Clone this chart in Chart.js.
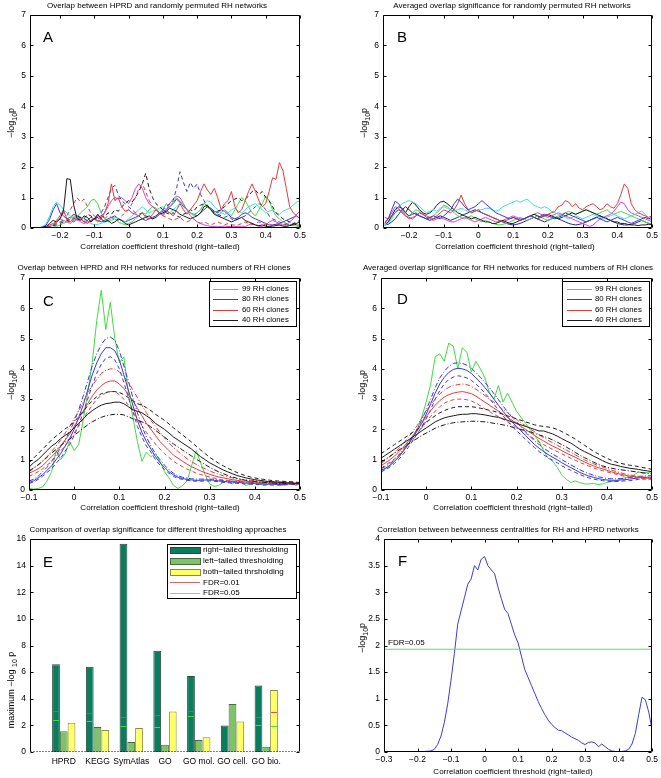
<!DOCTYPE html>
<html>
<head>
<meta charset="utf-8">
<script src="https://cdn.jsdelivr.net/npm/chart.js@4"></script>
<style>
  body { margin: 0; background: #fff; }
  canvas { position: absolute; left: 0; top: 0; }
</style>
</head>
<body>
<canvas id="cA" width="661" height="778"></canvas>
<canvas id="cB" width="661" height="778"></canvas>
<canvas id="cC" width="661" height="778"></canvas>
<canvas id="cD" width="661" height="778"></canvas>
<canvas id="cE" width="661" height="778"></canvas>
<canvas id="cF" width="661" height="778"></canvas>
<script>
// threshold grids
function grid(start, step, n) {
    const out = [];
    for (let i = 0; i < n; i++) out.push(Math.round((start + i * step) * 100) / 100);
    return out;
}
const aX = grid(-0.28, 0.01, 79);
const bX = grid(-0.27, 0.01, 78);
const cdX = grid(-0.1, 0.01, 61);
const fX = grid(-0.3, 0.01, 81);

// tick labels
const xTicksA = [-0.2, -0.1, 0, 0.1, 0.2, 0.3, 0.4, 0.5];
const xTicksCD = [-0.1, 0, 0.1, 0.2, 0.3, 0.4, 0.5];
const xTicksF = [-0.3, -0.2, -0.1, 0, 0.1, 0.2, 0.3, 0.4, 0.5];
const yTicks7 = [0, 1, 2, 3, 4, 5, 6, 7];
const yTicksE = [0, 2, 4, 6, 8, 10, 12, 14, 16];
const yTicksF = [0, 0.5, 1, 1.5, 2, 2.5, 3, 3.5, 4];

// A: overlap HPRD vs randomly permuted RH networks
const aBlack = [0,0,0.01,0.03,0.06,0.15,0.25,0.2,0.3,0.55,
    1.62,1.6,0.75,0.3,0.25,0.4,0.35,0.2,0.3,0.45,
    0.3,0.2,0.25,0.15,0.2,0.3,0.25,0.15,0.1,0.15,
    0.2,0.25,0.3,0.35,0.4,0.3,0.35,0.45,0.5,0.55,
    0.65,0.6,0.55,0.45,0.4,0.35,0.3,0.35,0.4,0.5,
    0.7,0.75,0.6,0.45,0.4,0.35,0.3,0.25,0.2,0.25,
    0.3,0.35,0.25,0.2,0.15,0.1,0.08,0.1,0.06,0.05,
    0.06,0.08,0.1,0.06,0.05,0.08,0.12,0.15,0.2];
const aRed = [0,0,0,0.02,0.05,0.1,0.15,0.25,0.4,0.6,
    0.3,0.2,0.35,0.25,0.3,0.2,0.15,0.25,0.3,0.2,
    0.3,0.5,0.8,1.45,0.9,1.0,0.7,0.55,0.6,0.5,
    0.45,0.4,0.5,0.35,0.3,0.45,0.6,0.5,0.4,0.55,
    0.5,0.4,0.6,0.8,0.6,0.45,0.6,0.75,0.9,1.2,
    1.45,1.25,1.1,1.3,1.0,0.6,0.8,0.9,1.2,0.7,
    0.5,0.6,0.9,1.2,1.45,1.2,0.9,0.7,0.8,1.2,
    1.65,1.6,2.15,1.9,1.3,0.7,0.5,0.4,0.3];
const aRedDash = [0,0,0,0,0.02,0.05,0.1,0.2,0.3,0.5,
    0.4,0.6,0.8,1.0,0.85,0.95,0.7,0.5,0.4,0.3,
    0.35,0.3,0.4,0.35,0.3,0.25,0.4,0.5,0.6,0.8,
    1.0,1.3,1.45,1.2,0.9,0.7,0.6,0.5,0.4,0.35,
    0.3,0.25,0.3,0.35,0.25,0.2,0.25,0.3,0.2,0.15,
    0.2,0.15,0.1,0.15,0.2,0.15,0.1,0.15,0.1,0.1,
    0.1,0.15,0.2,0.15,0.1,0.15,0.2,0.15,0.1,0.1,
    0.1,0.15,0.1,0.1,0.15,0.1,0.1,0.1,0.1];
const aBlackDash = [0,0,0,0.01,0.03,0.05,0.08,0.1,0.15,0.2,
    0.25,0.2,0.3,0.4,0.35,0.3,0.45,0.4,0.3,0.35,
    0.4,0.35,0.5,0.45,0.6,0.55,0.7,0.8,0.9,0.85,
    1.0,1.2,1.45,1.8,1.3,1.0,0.8,0.7,0.6,0.5,
    0.45,0.5,0.4,0.35,0.45,0.5,0.6,0.55,0.7,0.75,
    0.8,0.7,0.6,0.5,0.55,0.6,0.7,0.8,0.9,0.95,
    1.0,0.9,0.95,1.05,1.2,1.25,1.1,1.2,1.0,0.9,
    0.7,0.5,0.4,0.3,0.25,0.2,0.15,0.1,0.1];
const aBlueDash = [0,0,0,0.01,0.02,0.05,0.1,0.15,0.2,0.25,
    0.3,0.25,0.2,0.3,0.35,0.3,0.25,0.2,0.3,0.4,
    0.5,0.7,1.0,1.3,1.4,1.1,0.9,0.8,0.7,0.6,
    0.5,0.45,0.5,0.4,0.35,0.3,0.4,0.5,0.6,0.7,
    0.8,0.9,1.3,1.85,1.5,1.2,1.5,1.3,1.45,1.1,
    0.9,0.7,0.6,0.5,0.45,0.4,0.35,0.4,0.3,0.25,
    0.3,0.35,0.4,0.5,0.6,0.7,0.8,0.75,0.6,0.4,
    0.3,0.25,0.2,0.15,0.1,0.1,0.15,0.2,0.25];
const aMagenta = [0,0,0,0,0.02,0.05,0.1,0.2,0.3,0.25,
    0.2,0.15,0.25,0.3,0.2,0.15,0.2,0.25,0.3,0.35,
    0.4,0.5,0.7,0.9,1.0,0.95,1.0,0.9,0.8,1.0,
    1.3,1.45,1.3,1.0,0.8,0.7,0.6,0.5,0.45,0.6,
    0.8,0.95,1.05,1.0,0.8,0.6,0.4,0.3,0.2,0.15,
    0.1,0.08,0.05,0.05,0.04,0.05,0.06,0.05,0.04,0.05,
    0.05,0.06,0.05,0.1,0.15,0.1,0.05,0.05,0.1,0.2,
    0.25,0.2,0.15,0.1,0.1,0.2,0.3,0.45,0.55];
const aGreen = [0,0,0,0,0,0.01,0.03,0.05,0.1,0.15,
    0.2,0.3,0.4,0.35,0.5,0.6,0.7,0.9,0.95,0.8,
    0.5,0.3,0.2,0.25,0.3,0.2,0.15,0.1,0.15,0.2,
    0.3,0.4,0.5,0.45,0.6,0.7,0.65,0.5,0.6,0.8,
    0.7,0.85,1.0,0.9,0.75,0.6,0.5,0.4,0.5,0.6,
    0.8,0.75,0.6,0.5,0.4,0.5,0.6,0.5,0.4,0.6,
    0.8,1.0,0.9,0.7,0.5,0.4,0.6,0.8,1.05,0.9,
    0.6,0.4,0.3,0.2,0.15,0.1,0.08,0.06,0.05];
const aCyan = [0,0,0.01,0.05,0.15,0.4,0.7,0.85,0.75,0.6,
    0.5,0.4,0.3,0.35,0.3,0.25,0.2,0.15,0.1,0.12,
    0.15,0.2,0.25,0.3,0.35,0.3,0.25,0.2,0.3,0.4,
    0.5,0.6,0.7,0.6,0.5,0.55,0.6,0.65,0.7,0.6,
    0.5,0.6,0.7,0.8,0.75,0.6,0.5,0.45,0.5,0.6,
    0.8,0.9,0.85,0.7,0.6,0.5,0.45,0.5,0.6,0.65,
    0.55,0.5,0.6,0.7,0.75,0.8,0.7,0.6,0.5,0.55,
    0.6,0.5,0.45,0.55,0.6,0.65,0.75,0.85,0.9];
const aBlue = [0,0,0.01,0.03,0.1,0.3,0.6,0.8,0.5,0.4,
    0.3,0.35,0.45,0.4,0.3,0.2,0.25,0.35,0.3,0.25,
    0.2,0.25,0.3,0.35,0.4,0.3,0.25,0.2,0.25,0.3,
    0.35,0.4,0.3,0.25,0.3,0.35,0.4,0.5,0.55,0.6,
    0.7,0.8,0.95,0.85,0.7,0.6,0.5,0.45,0.4,0.5,
    0.6,0.7,0.65,0.55,0.5,0.6,0.55,0.45,0.35,0.3,
    0.35,0.45,0.5,0.45,0.35,0.3,0.25,0.2,0.15,0.1,
    0.1,0.12,0.15,0.2,0.25,0.3,0.35,0.4,0.3];

// B: averaged overlap significance, permuted networks
const bBlue = [0.15,0.3,0.6,0.88,0.8,0.6,0.5,0.4,0.45,0.5,
    0.4,0.35,0.3,0.35,0.4,0.35,0.3,0.4,0.5,0.6,
    0.8,0.95,0.85,0.7,0.6,0.65,0.7,0.8,0.9,0.8,
    0.7,0.6,0.5,0.45,0.4,0.35,0.3,0.35,0.3,0.25,
    0.3,0.35,0.4,0.35,0.3,0.4,0.45,0.4,0.35,0.3,
    0.35,0.4,0.5,0.45,0.4,0.35,0.3,0.25,0.2,0.25,
    0.3,0.35,0.3,0.25,0.2,0.25,0.3,0.35,0.3,0.25,
    0.2,0.15,0.2,0.25,0.3,0.35,0.3,0.35];
const bRed = [0.35,0.3,0.4,0.5,0.6,0.5,0.4,0.35,0.3,0.4,
    0.5,0.45,0.4,0.35,0.3,0.4,0.5,0.6,0.55,0.5,
    0.6,0.8,1.08,0.8,0.6,0.5,0.55,0.6,0.5,0.45,
    0.4,0.35,0.3,0.25,0.2,0.25,0.3,0.35,0.3,0.25,
    0.3,0.35,0.4,0.35,0.3,0.35,0.4,0.45,0.5,0.55,
    0.7,0.75,0.9,0.85,0.7,0.8,0.65,0.6,0.7,0.75,
    0.8,0.7,0.6,0.65,0.8,0.7,0.65,0.8,1.1,1.45,
    1.3,0.8,0.6,0.5,0.45,0.4,0.35,0.4];
const bCyan = [0.1,0.15,0.3,0.5,0.7,0.8,0.85,0.9,0.85,0.8,
    0.7,0.6,0.5,0.55,0.6,0.55,0.65,0.7,0.65,0.6,
    0.55,0.6,0.65,0.6,0.55,0.5,0.55,0.6,0.6,0.65,
    0.65,0.6,0.55,0.6,0.7,0.75,0.8,0.85,0.9,0.85,
    0.9,0.95,0.85,0.75,0.7,0.65,0.7,0.65,0.55,0.5,
    0.45,0.4,0.35,0.3,0.35,0.4,0.35,0.3,0.35,0.4,
    0.45,0.4,0.35,0.3,0.35,0.4,0.45,0.4,0.35,0.3,
    0.35,0.4,0.45,0.5,0.55,0.45,0.3,0.25];
const bBlack = [0.1,0.2,0.4,0.6,0.7,0.65,0.5,0.7,0.85,0.75,
    0.6,0.5,0.45,0.5,0.6,0.75,0.85,0.88,0.8,0.7,
    0.6,0.5,0.45,0.4,0.35,0.3,0.35,0.3,0.25,0.2,
    0.2,0.15,0.15,0.2,0.25,0.2,0.15,0.15,0.2,0.25,
    0.3,0.35,0.4,0.45,0.4,0.35,0.4,0.45,0.4,0.35,
    0.3,0.35,0.4,0.45,0.5,0.45,0.5,0.55,0.6,0.55,
    0.5,0.45,0.4,0.35,0.3,0.25,0.2,0.2,0.15,0.15,
    0.12,0.1,0.1,0.08,0.1,0.1,0.12,0.12];
const bMagenta = [0.2,0.3,0.5,0.7,0.65,0.5,0.4,0.3,0.35,0.4,
    0.5,0.45,0.35,0.3,0.25,0.3,0.35,0.3,0.25,0.2,
    0.2,0.25,0.3,0.35,0.3,0.25,0.2,0.25,0.3,0.35,
    0.3,0.25,0.2,0.2,0.25,0.3,0.35,0.4,0.35,0.3,
    0.3,0.35,0.4,0.45,0.5,0.45,0.4,0.35,0.4,0.45,
    0.5,0.45,0.4,0.35,0.3,0.25,0.2,0.15,0.1,0.05,
    0.1,0.2,0.3,0.35,0.4,0.45,0.55,0.7,0.85,0.8,
    0.6,0.5,0.45,0.4,0.35,0.3,0.25,0.2];
const bGreen = [0.1,0.2,0.35,0.5,0.6,0.55,0.45,0.4,0.5,0.6,
    0.55,0.45,0.35,0.3,0.4,0.5,0.6,0.75,0.7,0.6,
    0.5,0.4,0.35,0.3,0.35,0.4,0.3,0.25,0.2,0.25,
    0.2,0.15,0.12,0.1,0.12,0.15,0.2,0.25,0.3,0.35,
    0.3,0.25,0.3,0.35,0.4,0.35,0.3,0.25,0.3,0.35,
    0.4,0.45,0.5,0.55,0.5,0.45,0.5,0.55,0.6,0.55,
    0.5,0.45,0.5,0.55,0.6,0.5,0.45,0.5,0.55,0.5,
    0.45,0.4,0.35,0.3,0.25,0.2,0.15,0.15];
const bNavy = [0.1,0.12,0.2,0.3,0.45,0.6,0.7,0.6,0.5,0.45,
    0.4,0.35,0.3,0.25,0.3,0.35,0.4,0.35,0.3,0.25,
    0.3,0.35,0.4,0.45,0.5,0.55,0.6,0.55,0.5,0.45,
    0.4,0.35,0.3,0.25,0.2,0.15,0.12,0.1,0.12,0.15,
    0.2,0.25,0.3,0.35,0.3,0.25,0.2,0.25,0.3,0.35,
    0.3,0.25,0.2,0.15,0.12,0.1,0.12,0.15,0.2,0.25,
    0.3,0.35,0.4,0.35,0.3,0.25,0.2,0.15,0.12,0.1,
    0.1,0.12,0.15,0.2,0.25,0.2,0.15,0.1];

// C: HPRD vs RH networks for reduced numbers of clones
const c99 = [0.05,0.03,0.05,0.1,0.3,0.6,1.3,1.0,1.2,1.6,
    1.3,1.5,2.3,3.2,4.2,5.6,6.6,5.3,6.2,5.0,
    4.2,4.4,3.2,2.4,1.6,0.95,1.25,1.1,1.2,0.95,
    0.6,0.4,0.15,0.05,0.15,0.3,0.8,1.3,0.9,0.5,
    0.2,0.12,0.15,0.25,0.3,0.2,0.3,0.25,0.15,0.2,
    0.3,0.2,0.15,0.2,0.25,0.2,0.15,0.2,0.25,0.15,0.2];
const c80 = [0.25,0.3,0.4,0.5,0.65,0.8,1.0,1.2,1.45,1.7,
    2.0,2.4,2.8,3.3,3.8,4.2,4.5,4.7,4.7,4.6,
    4.3,3.8,3.3,2.8,2.3,1.9,1.6,1.35,1.1,0.9,
    0.75,0.6,0.5,0.42,0.38,0.35,0.33,0.32,0.32,0.33,
    0.33,0.32,0.3,0.28,0.27,0.26,0.25,0.24,0.23,0.22,
    0.21,0.2,0.2,0.19,0.19,0.18,0.18,0.19,0.2,0.21,0.22];
const c80Hi = [0.3,0.35,0.45,0.6,0.75,0.95,1.15,1.4,1.65,1.95,
    2.25,2.65,3.1,3.6,4.1,4.5,4.8,5.0,5.05,4.95,
    4.6,4.1,3.6,3.05,2.55,2.1,1.75,1.45,1.2,1.0,
    0.82,0.67,0.55,0.47,0.42,0.39,0.37,0.36,0.36,0.36,
    0.36,0.35,0.33,0.31,0.3,0.29,0.28,0.27,0.26,0.25,
    0.24,0.23,0.23,0.22,0.22,0.21,0.21,0.22,0.23,0.24,0.25];
const c80Lo = [0.22,0.26,0.35,0.45,0.58,0.7,0.88,1.05,1.28,1.5,
    1.8,2.15,2.55,3.0,3.45,3.85,4.15,4.35,4.4,4.3,
    4.0,3.55,3.05,2.6,2.1,1.75,1.45,1.25,1.0,0.82,
    0.68,0.55,0.45,0.38,0.35,0.32,0.3,0.29,0.29,0.3,
    0.3,0.29,0.27,0.25,0.24,0.23,0.22,0.21,0.2,0.19,
    0.18,0.18,0.17,0.17,0.16,0.16,0.16,0.17,0.18,0.19,0.2];
const c60 = [0.55,0.62,0.7,0.8,0.95,1.1,1.25,1.45,1.65,1.85,
    2.1,2.35,2.6,2.85,3.1,3.3,3.45,3.55,3.6,3.6,
    3.5,3.35,3.15,2.95,2.7,2.45,2.2,2.0,1.8,1.6,
    1.45,1.3,1.15,1.05,0.95,0.85,0.77,0.7,0.63,0.57,
    0.52,0.47,0.43,0.4,0.37,0.34,0.32,0.3,0.29,0.28,
    0.27,0.26,0.26,0.25,0.25,0.24,0.24,0.23,0.23,0.22,0.22];
const c60Hi = [0.65,0.72,0.82,0.95,1.1,1.28,1.45,1.65,1.88,2.1,
    2.35,2.6,2.9,3.2,3.45,3.65,3.85,3.95,4.0,4.0,
    3.9,3.75,3.55,3.3,3.05,2.8,2.55,2.3,2.1,1.9,
    1.72,1.55,1.4,1.27,1.15,1.03,0.93,0.85,0.77,0.7,
    0.63,0.57,0.52,0.47,0.43,0.4,0.37,0.35,0.33,0.32,
    0.31,0.3,0.29,0.28,0.28,0.27,0.27,0.26,0.26,0.25,0.25];
const c60Lo = [0.45,0.52,0.6,0.7,0.82,0.95,1.1,1.28,1.45,1.65,
    1.88,2.1,2.35,2.58,2.8,3.0,3.12,3.2,3.25,3.25,
    3.15,3.0,2.8,2.6,2.35,2.12,1.9,1.7,1.52,1.35,
    1.2,1.07,0.95,0.85,0.77,0.69,0.62,0.56,0.51,0.47,
    0.43,0.39,0.36,0.33,0.31,0.29,0.27,0.26,0.25,0.24,
    0.23,0.23,0.22,0.22,0.21,0.21,0.2,0.2,0.2,0.2,0.2];
const c40 = [0.75,0.9,1.0,1.15,1.3,1.45,1.55,1.7,1.8,1.9,
    2.05,2.2,2.35,2.5,2.62,2.72,2.8,2.85,2.87,2.9,
    2.9,2.85,2.75,2.65,2.6,2.55,2.45,2.35,2.2,2.1,
    2.0,1.88,1.75,1.65,1.55,1.45,1.35,1.22,1.1,1.0,
    0.9,0.82,0.74,0.66,0.6,0.54,0.48,0.44,0.4,0.37,
    0.34,0.32,0.3,0.28,0.27,0.26,0.25,0.24,0.23,0.22,0.22];
const c40Hi = [0.9,1.05,1.2,1.35,1.5,1.65,1.78,1.9,2.02,2.12,
    2.25,2.42,2.6,2.78,2.95,3.08,3.18,3.22,3.25,3.25,
    3.22,3.15,3.05,2.95,2.85,2.8,2.72,2.62,2.5,2.4,
    2.3,2.18,2.05,1.93,1.82,1.7,1.58,1.45,1.32,1.2,
    1.08,0.98,0.88,0.8,0.72,0.65,0.58,0.52,0.47,0.43,
    0.4,0.37,0.35,0.33,0.31,0.3,0.29,0.28,0.27,0.26,0.25];
const c40Lo = [0.6,0.72,0.83,0.95,1.08,1.22,1.34,1.46,1.58,1.68,
    1.8,1.92,2.04,2.15,2.25,2.33,2.4,2.45,2.48,2.5,
    2.5,2.48,2.42,2.35,2.3,2.25,2.18,2.08,1.97,1.86,
    1.75,1.63,1.52,1.42,1.32,1.22,1.12,1.02,0.93,0.84,
    0.75,0.67,0.6,0.54,0.48,0.43,0.39,0.35,0.32,0.3,
    0.28,0.26,0.25,0.24,0.23,0.22,0.21,0.21,0.2,0.2,0.2];

// D: averaged overlap significance for reduced numbers of clones
const d99 = [0.6,0.7,0.8,0.95,1.1,1.3,1.5,1.75,2.0,2.4,
    2.9,3.5,4.4,4.5,4.25,4.85,4.75,4.0,4.7,4.55,
    3.9,4.25,4.0,3.7,3.2,3.0,3.45,2.9,3.2,2.9,
    2.6,2.4,2.2,2.0,1.8,1.6,1.3,1.05,0.95,0.75,
    0.5,0.35,0.25,0.3,0.25,0.2,0.2,0.22,0.18,0.2,
    0.25,0.28,0.3,0.35,0.4,0.42,0.5,0.6,0.55,0.58,0.6];
const d80 = [0.65,0.72,0.82,0.95,1.1,1.3,1.5,1.72,1.95,2.2,
    2.5,2.85,3.2,3.5,3.72,3.88,3.98,4.02,4.0,3.95,
    3.85,3.7,3.55,3.38,3.2,3.0,2.8,2.6,2.42,2.25,
    2.1,1.95,1.8,1.65,1.5,1.38,1.27,1.17,1.08,1.0,
    0.9,0.82,0.74,0.66,0.58,0.52,0.46,0.42,0.38,0.35,
    0.33,0.32,0.32,0.33,0.34,0.36,0.38,0.4,0.41,0.42,0.42];
const d80Hi = [0.7,0.78,0.88,1.0,1.15,1.35,1.55,1.78,2.0,2.3,
    2.65,3.0,3.38,3.7,3.92,4.08,4.18,4.2,4.18,4.12,
    4.02,3.88,3.72,3.55,3.38,3.18,2.98,2.78,2.58,2.4,
    2.25,2.08,1.92,1.77,1.62,1.5,1.38,1.28,1.18,1.1,
    1.0,0.92,0.83,0.75,0.67,0.6,0.54,0.49,0.44,0.41,
    0.38,0.37,0.37,0.38,0.39,0.41,0.43,0.45,0.46,0.47,0.47];
const d80Lo = [0.6,0.67,0.76,0.88,1.02,1.2,1.4,1.62,1.85,2.08,
    2.35,2.65,3.0,3.28,3.5,3.65,3.73,3.77,3.75,3.7,
    3.62,3.5,3.36,3.2,3.02,2.83,2.63,2.45,2.27,2.1,
    1.96,1.82,1.67,1.53,1.4,1.27,1.16,1.07,0.98,0.9,
    0.8,0.72,0.65,0.58,0.51,0.45,0.4,0.36,0.33,0.31,
    0.29,0.28,0.28,0.29,0.3,0.31,0.33,0.35,0.36,0.37,0.37];
const d60 = [0.8,0.9,1.0,1.12,1.27,1.42,1.6,1.78,1.98,2.2,
    2.42,2.62,2.8,2.95,3.07,3.15,3.2,3.23,3.25,3.22,
    3.18,3.1,3.0,2.9,2.8,2.7,2.6,2.5,2.4,2.3,
    2.2,2.1,2.0,1.9,1.8,1.7,1.62,1.53,1.45,1.38,
    1.3,1.22,1.15,1.08,1.0,0.93,0.86,0.8,0.74,0.7,
    0.65,0.6,0.56,0.52,0.49,0.46,0.44,0.42,0.4,0.39,0.38];
const d60Hi = [0.88,0.98,1.1,1.23,1.38,1.55,1.73,1.93,2.13,2.37,
    2.6,2.82,3.0,3.17,3.3,3.39,3.45,3.48,3.5,3.48,
    3.42,3.33,3.23,3.12,3.0,2.9,2.78,2.66,2.55,2.44,
    2.33,2.22,2.12,2.02,1.92,1.82,1.73,1.64,1.56,1.48,
    1.4,1.32,1.24,1.16,1.08,1.0,0.93,0.87,0.81,0.76,
    0.71,0.66,0.61,0.57,0.53,0.5,0.47,0.45,0.43,0.42,0.41];
const d60Lo = [0.72,0.82,0.92,1.03,1.17,1.32,1.48,1.65,1.84,2.05,
    2.25,2.43,2.6,2.75,2.86,2.94,2.98,3.0,3.0,2.98,
    2.94,2.87,2.78,2.68,2.59,2.5,2.42,2.34,2.25,2.16,
    2.07,1.98,1.88,1.78,1.68,1.58,1.5,1.42,1.34,1.27,
    1.2,1.12,1.05,0.98,0.91,0.85,0.79,0.73,0.68,0.64,
    0.6,0.56,0.52,0.48,0.45,0.43,0.41,0.39,0.37,0.36,0.35];
const d40 = [1.05,1.15,1.25,1.35,1.45,1.55,1.65,1.75,1.85,1.95,
    2.05,2.15,2.25,2.32,2.38,2.42,2.45,2.48,2.5,2.5,
    2.52,2.52,2.5,2.48,2.45,2.42,2.4,2.35,2.3,2.25,
    2.2,2.15,2.1,2.05,2.0,1.95,1.95,1.9,1.85,1.78,
    1.7,1.62,1.55,1.45,1.35,1.27,1.2,1.12,1.05,0.97,
    0.9,0.85,0.82,0.78,0.75,0.72,0.7,0.68,0.65,0.63,0.6];
const d40Hi = [1.2,1.3,1.4,1.5,1.6,1.7,1.8,1.9,2.0,2.1,
    2.22,2.35,2.45,2.55,2.62,2.68,2.72,2.75,2.75,2.75,
    2.75,2.73,2.7,2.67,2.63,2.6,2.55,2.5,2.45,2.4,
    2.35,2.3,2.25,2.2,2.15,2.12,2.1,2.08,2.05,2.0,
    1.93,1.85,1.77,1.68,1.58,1.48,1.38,1.28,1.2,1.12,
    1.05,0.98,0.93,0.88,0.85,0.82,0.8,0.77,0.74,0.71,0.68];
const d40Lo = [0.92,1.02,1.12,1.22,1.32,1.42,1.52,1.62,1.7,1.8,
    1.88,1.96,2.04,2.1,2.15,2.19,2.22,2.24,2.25,2.26,
    2.27,2.27,2.26,2.25,2.23,2.2,2.18,2.15,2.12,2.08,
    2.04,2.0,1.96,1.92,1.87,1.82,1.77,1.72,1.65,1.58,
    1.5,1.42,1.33,1.24,1.15,1.07,1.0,0.92,0.86,0.8,
    0.75,0.72,0.69,0.67,0.65,0.63,0.61,0.59,0.57,0.55,0.53];

// E: maximum -log10 p per database and thresholding approach
const eCategories = ['HPRD', 'KEGG', 'SymAtlas', 'GO', 'GO mol.', 'GO cell.', 'GO bio.'];
const eRight = [6.6, 6.4, 15.65, 7.6, 5.7, 2.0, 5.0];
const eLeft = [1.55, 1.88, 0.75, 0.55, 0.9, 3.6, 0.4];
const eBoth = [2.2, 1.65, 1.8, 3.05, 1.1, 2.3, 4.65];
const eFdr01Right = [3.1, 2.95, 2.65, 2.8, 3.1, null, 2.65];
const eFdr05Right = [2.4, 2.35, 1.95, 1.9, 2.7, null, 2.0];
const eFdr01Both = [null, null, null, null, null, null, 3.0];
const eFdr05Both = [null, null, null, null, null, null, 1.95];

// F: betweenness centrality correlation
const fLogP = [0,0,0,0,0,0,0,0,0,0,
    0,0.005,0.01,0.015,0.02,0.05,0.14,0.3,0.55,0.9,
    1.35,1.85,2.4,2.65,2.9,3.15,3.25,3.5,3.42,3.62,
    3.67,3.5,3.42,3.35,3.1,2.88,2.68,2.6,2.4,2.2,
    2.05,1.8,1.55,1.4,1.25,1.1,0.95,0.82,0.7,0.6,
    0.52,0.46,0.41,0.4,0.36,0.32,0.28,0.25,0.22,0.17,
    0.14,0.18,0.19,0.17,0.1,0.15,0.1,0.05,0.02,0.01,
    0,0.01,0.02,0.05,0.15,0.35,0.7,1.03,0.98,0.75,0.42];
const fFdrX = [-0.3, 0.5];
const fFdr = [1.93, 1.93];

// ---- drawing ----
const W = 661, H = 778, YW = 24, XH = 20;
const FONT = '"Liberation Sans", Arial, sans-serif';
const TICK = 8.5, LABEL = 8;
const DASH = [4, 3], DASHDOT = [5, 2, 1, 2];
const cK = '#1a1a1a', cR = '#e23b3b', cB = '#3636e0', cG = '#3fdc3f', cM = '#dc3fdc', cC = '#3fdcdc';
const LOGP = [{ t: '\u2212log' }, { t: '10', sub: true }, { t: 'p' }];
const XLAB = 'Correlation coefficient threshold (right\u2212tailed)';

function fmt(v) { return v < 0 ? '\u2212' + (-v) : '' + v; }

function series(xs, ys, color, dash) {
    return {
        data: ys.map((y, i) => ({ x: xs[i], y: y })),
        borderColor: color, borderWidth: 1, borderDash: dash || [],
        pointRadius: 0, fill: false, tension: 0
    };
}

function text(ctx, t, x, y, size, align) {
    ctx.font = size + 'px ' + FONT;
    ctx.textAlign = align || 'center';
    ctx.textBaseline = 'middle';
    ctx.fillStyle = '#000';
    ctx.fillText(t, x, y);
}

function rich(ctx, segs, x, y, rotate) {
    ctx.save();
    ctx.translate(x, y);
    if (rotate) ctx.rotate(-Math.PI / 2);
    const widths = segs.map(s => { ctx.font = (s.sub ? 7 : 9) + 'px ' + FONT; return ctx.measureText(s.t).width; });
    let cx = -widths.reduce((a, b) => a + b, 0) / 2;
    ctx.textAlign = 'left'; ctx.textBaseline = 'middle'; ctx.fillStyle = '#000';
    segs.forEach((s, i) => {
        ctx.font = (s.sub ? 7 : 9) + 'px ' + FONT;
        ctx.fillText(s.t, cx, s.sub ? 3 : 0);
        cx += widths[i];
    });
    ctx.restore();
}

function seg(ctx, x1, y1, x2, y2) {
    ctx.beginPath(); ctx.moveTo(x1, y1); ctx.lineTo(x2, y2); ctx.stroke();
}

function panelPlugin(p) {
    return {
        id: 'panel' + p.letter,
        afterDraw(chart) {
            const ctx = chart.ctx, a = chart.chartArea, xs = chart.scales.x, ys = chart.scales.y;
            ctx.save();
            ctx.strokeStyle = '#000'; ctx.lineWidth = 1; ctx.setLineDash([]);
            const L = Math.round(a.left) + 0.5, R = Math.round(a.right) - 0.5;
            const T = Math.round(a.top) + 0.5, B = Math.round(a.bottom) - 0.5;

            // FDR marks on bars
            (p.marks || []).forEach(m => {
                const meta = chart.getDatasetMeta(m.ds);
                ctx.strokeStyle = m.color;
                m.values.forEach((v, i) => {
                    if (v === null) return;
                    const bar = meta.data[i + 1];
                    const py = Math.round(ys.getPixelForValue(v)) + 0.5;
                    seg(ctx, bar.x - bar.width / 2 + 1, py, bar.x + bar.width / 2 - 1, py);
                });
            });
            ctx.strokeStyle = '#000';

            // inward ticks
            if (!p.noXTicks) xs.ticks.forEach(t => {
                const px = Math.round(xs.getPixelForValue(t.value)) + 0.5;
                seg(ctx, px, B, px, B - 3); seg(ctx, px, T, px, T + 3);
            });
            ys.ticks.forEach(t => {
                const py = Math.round(ys.getPixelForValue(t.value)) + 0.5;
                seg(ctx, L, py, L + 3, py); seg(ctx, R, py, R - 3, py);
            });

            // box
            seg(ctx, L, T, R, T); seg(ctx, L, T, L, B); seg(ctx, R, T, R, B);
            if (p.dottedBase) { ctx.setLineDash([1, 2]); }
            seg(ctx, L, B, R, B);
            ctx.setLineDash([]);

            // texts
            text(ctx, p.title[0], p.title[1], p.title[2], LABEL);
            if (p.xlabel) text(ctx, XLAB, p.xlabel[0], p.xlabel[1], LABEL);
            rich(ctx, p.ylabel[0], p.ylabel[1], p.ylabel[2], true);
            text(ctx, p.letter, p.letterPos[0], p.letterPos[1], 15, 'left');
            if (p.note) text(ctx, p.note[0], a.left + 4, ys.getPixelForValue(p.note[1]) - 6, LABEL, 'left');

            // legend
            if (p.legend) {
                const lg = p.legend;
                ctx.fillStyle = '#fff';
                ctx.fillRect(lg.box[0], lg.box[1], lg.box[2] - lg.box[0], lg.box[3] - lg.box[1]);
                ctx.strokeStyle = '#000';
                ctx.strokeRect(lg.box[0] + 0.5, lg.box[1] + 0.5, lg.box[2] - lg.box[0], lg.box[3] - lg.box[1]);
                lg.items.forEach((it, i) => {
                    const y = lg.y0 + i * lg.dy;
                    if (it.fill) {
                        ctx.fillStyle = it.fill;
                        ctx.fillRect(lg.sx[0], Math.round(y - 3), lg.sx[1] - lg.sx[0], 6);
                        ctx.strokeStyle = it.edge;
                        ctx.strokeRect(lg.sx[0] + 0.5, Math.round(y - 3) + 0.5, lg.sx[1] - lg.sx[0], 6);
                    } else {
                        ctx.strokeStyle = it.color;
                        seg(ctx, lg.sx[0], Math.round(y) + 0.5, lg.sx[1], Math.round(y) + 0.5);
                    }
                    text(ctx, it.label, lg.tx, y, lg.size, 'left');
                });
            }
            ctx.restore();
        }
    };
}

function options(p, xScale) {
    return {
        responsive: false, animation: false, devicePixelRatio: 1,
        layout: { padding: { left: p.plot[0] - YW, top: p.plot[1], right: W - p.plot[2], bottom: H - p.plot[3] - XH } },
        plugins: { legend: { display: false }, tooltip: { enabled: false } },
        scales: {
            x: Object.assign({
                grid: { display: false, drawTicks: false }, border: { display: false },
                afterFit: s => { s.height = XH; }
            }, xScale),
            y: {
                type: 'linear', min: p.yMin, max: p.yMax,
                grid: { display: false, drawTicks: false }, border: { display: false },
                ticks: { color: '#000', font: { family: FONT, size: TICK }, padding: 4, autoSkip: false, callback: v => fmt(v) },
                afterFit: s => { s.width = YW; },
                afterBuildTicks: s => { s.ticks = p.yTicks.map(v => ({ value: v })); }
            }
        }
    };
}

function lineChart(id, p) {
    new Chart(document.getElementById(id), {
        type: 'line',
        data: { datasets: p.datasets },
        options: options(p, {
            type: 'linear', min: p.xMin, max: p.xMax,
            ticks: { color: '#000', font: { family: FONT, size: TICK }, padding: 3, maxRotation: 0, autoSkip: false, callback: v => fmt(v) },
            afterBuildTicks: s => { s.ticks = p.xTicks.map(v => ({ value: v })); }
        }),
        plugins: [panelPlugin(p)]
    });
}

const cloneLegend = [
    { label: '99 RH clones', color: cG },
    { label: '80 RH clones', color: cB },
    { label: '60 RH clones', color: cR },
    { label: '40 RH clones', color: cK }
];

function cloneSets(v99, v80, v80h, v80l, v60, v60h, v60l, v40, v40h, v40l) {
    return [
        series(cdX, v40, cK), series(cdX, v40h, cK, DASH), series(cdX, v40l, cK, DASHDOT),
        series(cdX, v60, cR), series(cdX, v60h, cR, DASHDOT), series(cdX, v60l, cR, DASH),
        series(cdX, v80, cB), series(cdX, v80h, cB, DASHDOT), series(cdX, v80l, cB, DASH),
        series(cdX, v99, cG)
    ];
}

lineChart('cA', {
    letter: 'A', letterPos: [43, 38], plot: [30, 15, 300, 228],
    xMin: -0.2875, xMax: 0.5, xTicks: xTicksA, yMin: 0, yMax: 7, yTicks: yTicks7,
    title: ['Overlap between HPRD and randomly permuted RH networks', 157, 6],
    xlabel: [160, 247], ylabel: [LOGP, 12, 123],
    datasets: [
        series(aX, aBlack, cK), series(aX, aRed, cR), series(aX, aRedDash, cR, DASH),
        series(aX, aBlackDash, cK, DASH), series(aX, aBlueDash, cB, DASH), series(aX, aMagenta, cM),
        series(aX, aGreen, cG), series(aX, aCyan, cC), series(aX, aBlue, cB)
    ]
});

lineChart('cB', {
    letter: 'B', letterPos: [397, 38], plot: [383, 15, 653, 228],
    xMin: -0.275, xMax: 0.5, xTicks: xTicksA, yMin: 0, yMax: 7, yTicks: yTicks7,
    title: ['Averaged overlap significance for randomly permuted RH networks', 512, 6],
    xlabel: [515, 247], ylabel: [LOGP, 365, 123],
    datasets: [
        series(bX, bBlue, cB), series(bX, bRed, cR), series(bX, bCyan, cC), series(bX, bBlack, cK),
        series(bX, bMagenta, cM), series(bX, bGreen, cG), series(bX, bNavy, '#2020a0')
    ]
});

lineChart('cC', {
    letter: 'C', letterPos: [43, 302], plot: [29, 278, 300, 490],
    xMin: -0.1, xMax: 0.5, xTicks: xTicksCD, yMin: 0, yMax: 7, yTicks: yTicks7,
    title: ['Overlap between HPRD and RH networks for reduced numbers of RH clones', 154, 268],
    xlabel: [160, 508], ylabel: [LOGP, 12, 385],
    datasets: cloneSets(c99, c80, c80Hi, c80Lo, c60, c60Hi, c60Lo, c40, c40Hi, c40Lo),
    legend: { box: [209, 281, 296, 326], y0: 288.5, dy: 10.6, sx: [213, 238], tx: 242, size: 7.8, items: cloneLegend }
});

lineChart('cD', {
    letter: 'D', letterPos: [397, 300], plot: [381, 278, 653, 490],
    xMin: -0.1, xMax: 0.5, xTicks: xTicksCD, yMin: 0, yMax: 7, yTicks: yTicks7,
    title: ['Averaged overlap significance for RH networks for reduced numbers of RH clones', 508, 268],
    xlabel: [513, 508], ylabel: [LOGP, 363, 385],
    datasets: cloneSets(d99, d80, d80Hi, d80Lo, d60, d60Hi, d60Lo, d40, d40Hi, d40Lo),
    legend: { box: [562, 281, 649, 326], y0: 288.5, dy: 10.6, sx: [567, 592], tx: 595, size: 7.8, items: cloneLegend }
});

// E: grouped bars on a category axis padded with empty slots at both ends
const pad = arr => [null].concat(arr, [null]);
const pE = {
    letter: 'E', letterPos: [43, 563], plot: [30, 539, 300, 752],
    yMin: 0, yMax: 16, yTicks: yTicksE, noXTicks: true, dottedBase: true,
    title: ['Comparison of overlap significance for different thresholding approaches', 158, 530],
    ylabel: [[{ t: 'maximum \u2212log ' }, { t: '10', sub: true }, { t: ' p' }], 12, 690],
    marks: [
        { ds: 0, values: eFdr01Right, color: '#c8504a' }, { ds: 0, values: eFdr05Right, color: '#3fe03f' },
        { ds: 2, values: eFdr01Both, color: '#e05040' }, { ds: 2, values: eFdr05Both, color: '#3fe03f' }
    ],
    legend: {
        box: [167, 544, 296, 598], y0: 550, dy: 10.8, sx: [170, 200], tx: 203, size: 8,
        items: [
            { label: 'right\u2212tailed thresholding', fill: '#0b7d5f', edge: '#2c4a38' },
            { label: 'left\u2212tailed thresholding', fill: '#80c26a', edge: '#4a6a40' },
            { label: 'both\u2212tailed thrsholding', fill: '#ffff66', edge: '#8a8a40' },
            { label: 'FDR=0.01', color: '#e06060' },
            { label: 'FDR=0.05', color: '#70e070' }
        ]
    }
};
new Chart(document.getElementById('cE'), {
    type: 'bar',
    data: {
        labels: pad(eCategories).map(v => v || ''),
        datasets: [
            { data: pad(eRight), backgroundColor: '#0b7d5f', borderColor: '#2c4a38', borderWidth: 1 },
            { data: pad(eLeft), backgroundColor: '#80c26a', borderColor: '#4a6a40', borderWidth: 1 },
            { data: pad(eBoth), backgroundColor: '#ffff66', borderColor: '#8a8a40', borderWidth: 1 }
        ]
    },
    options: Object.assign(options(pE, {
        type: 'category', offset: false,
        ticks: { color: '#000', font: { family: FONT, size: TICK }, padding: 5, maxRotation: 0, autoSkip: false }
    }), { datasets: { bar: { categoryPercentage: 0.69, barPercentage: 1.0 } } }),
    plugins: [panelPlugin(pE)]
});

lineChart('cF', {
    letter: 'F', letterPos: [398, 562], plot: [384, 539, 653, 752],
    xMin: -0.3, xMax: 0.5, xTicks: xTicksF, yMin: 0, yMax: 4, yTicks: yTicksF,
    title: ['Correlation between betweenness centralities for RH and HPRD networks', 508, 530],
    xlabel: [513, 772], ylabel: [LOGP, 363, 638],
    note: ['FDR=0.05', 1.93],
    datasets: [series(fFdrX, fFdr, '#5fe05f'), series(fX, fLogP, '#3c3cd0')]
});
</script>
</body>
</html>
